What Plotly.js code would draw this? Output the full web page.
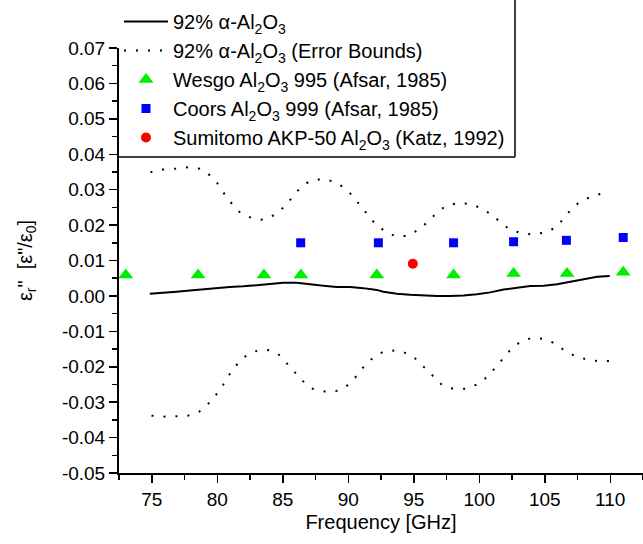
<!DOCTYPE html>
<html>
<head>
<meta charset="utf-8">
<script src="https://cdn.plot.ly/plotly-3.0.1.min.js"></script>
<style>html,body{margin:0;padding:0;background:#fff;}#chart{width:643px;height:544px;}</style>
</head>
<body>
<div id="chart"></div>
<script>
// Solid line: 92% alpha-Al2O3
const lineFreq = [74.85, 75.86, 76.89, 77.9, 78.92, 79.95, 80.96, 81.98, 83.0, 84.02, 85.04, 86.06, 87.08, 88.1, 89.12, 90.14, 91.15, 92.18, 92.68, 93.71, 94.72, 95.74, 96.77, 97.78, 98.8, 99.82, 100.84, 101.86, 102.88, 103.9, 104.92, 105.94, 106.96, 107.98, 109.0, 109.96];
const lineVal = [0.0006, 0.0008, 0.0012, 0.0015, 0.0019, 0.0022, 0.0025, 0.0027, 0.0031, 0.0034, 0.0037, 0.0037, 0.0034, 0.0029, 0.0025, 0.0025, 0.0022, 0.0017, 0.0012, 0.0006, 0.0003, 0.0001, 0.0, 0.0, 0.0001, 0.0005, 0.0010, 0.0018, 0.0023, 0.0028, 0.0029, 0.0033, 0.0040, 0.0048, 0.0054, 0.0056];

// Upper error bound
const upperFreq = [74.9, 75.86, 76.83, 77.78, 78.67, 79.33, 79.99, 80.56, 81.12, 81.78, 82.62, 83.51, 84.33, 85.04, 85.63, 86.26, 87.0, 87.92, 88.82, 89.55, 90.24, 90.85, 91.44, 92.0, 92.68, 93.56, 94.44, 95.24, 95.95, 96.64, 97.4, 98.34, 99.26, 100.08, 100.84, 101.48, 102.27, 103.19, 104.11, 104.97, 105.73, 106.4, 106.96, 107.67, 108.59, 109.46];
const upperVal = [0.0349, 0.0357, 0.0359, 0.0363, 0.0359, 0.0344, 0.0319, 0.0287, 0.0260, 0.0234, 0.0220, 0.0215, 0.0228, 0.0249, 0.0274, 0.0302, 0.0323, 0.0330, 0.0324, 0.0309, 0.0286, 0.0258, 0.0232, 0.0206, 0.0186, 0.0169, 0.0169, 0.0184, 0.0205, 0.0230, 0.0253, 0.0262, 0.0260, 0.0249, 0.0232, 0.0213, 0.0189, 0.0177, 0.0173, 0.0179, 0.0191, 0.0216, 0.0242, 0.0266, 0.0281, 0.0290];

// Lower error bound
const lowerFreq = [74.98, 75.86, 76.83, 77.78, 78.62, 79.28, 79.89, 80.45, 80.91, 81.42, 82.13, 82.95, 83.89, 84.66, 85.3, 85.88, 86.52, 87.29, 88.23, 89.12, 89.89, 90.52, 91.16, 91.8, 92.68, 93.58, 94.47, 95.16, 95.8, 96.43, 97.09, 97.99, 98.88, 99.77, 100.46, 101.12, 101.7, 102.32, 103.08, 103.95, 104.87, 105.63, 106.4, 107.21, 108.16, 109.07, 109.96];
const lowerVal = [-0.0338, -0.0341, -0.0340, -0.0338, -0.0327, -0.0306, -0.0280, -0.0251, -0.0223, -0.0197, -0.0171, -0.0156, -0.0153, -0.0164, -0.0190, -0.0215, -0.0240, -0.0262, -0.0270, -0.0268, -0.0254, -0.0231, -0.0201, -0.0178, -0.0157, -0.0154, -0.0162, -0.0178, -0.0201, -0.0225, -0.0249, -0.0262, -0.0262, -0.0251, -0.0233, -0.0207, -0.0182, -0.0155, -0.0131, -0.0119, -0.0121, -0.0132, -0.0151, -0.0168, -0.0179, -0.0184, -0.0184];

// Wesgo Al2O3 995 (Afsar, 1985)
const wesgoFreq = [73.01, 78.54, 83.56, 86.39, 92.18, 98.04, 102.62, 106.7, 110.99];
const wesgoVal = [0.0059, 0.0059, 0.0059, 0.0059, 0.0059, 0.0059, 0.0063, 0.0063, 0.0067];

// Coors Al2O3 999 (Afsar, 1985)
const coorsFreq = [86.37, 92.3, 98.04, 102.62, 106.65, 110.99];
const coorsVal = [0.0150, 0.0150, 0.0150, 0.0153, 0.0157, 0.0165];

// Sumitomo AKP-50 Al2O3 (Katz, 1992)
const sumiFreq = [94.93];
const sumiVal = [0.0091];

const names = [
  '92% \u03b1-Al<sub>2</sub>O<sub>3</sub>',
  '92% \u03b1-Al<sub>2</sub>O<sub>3</sub> (Error Bounds)',
  'Wesgo Al<sub>2</sub>O<sub>3</sub> 995 (Afsar, 1985)',
  'Coors Al<sub>2</sub>O<sub>3</sub> 999 (Afsar, 1985)',
  'Sumitomo AKP-50 Al<sub>2</sub>O<sub>3</sub> (Katz, 1992)'
];

const yTickVals = [0.07, 0.06, 0.05, 0.04, 0.03, 0.02, 0.01, 0.0, -0.01, -0.02, -0.03, -0.04, -0.05];
const yTickText = ['0.07', '0.06', '0.05', '0.04', '0.03', '0.02', '0.01', '0.00', '-0.01', '-0.02', '-0.03', '-0.04', '-0.05'];
const xTickVals = [75, 80, 85, 90, 95, 100, 105, 110];
const xTickText = ['75', '80', '85', '90', '95', '100', '105', '110'];

const dotDash = '2px,10px';

const traces = [
  {x: lineFreq, y: lineVal, mode: 'lines', name: names[0], line: {color: '#000', width: 2}, legendrank: 1},
  {x: upperFreq, y: upperVal, mode: 'lines', name: names[1], line: {color: '#000', width: 2, dash: dotDash}, legendgroup: 'err', legendrank: 2},
  {x: lowerFreq, y: lowerVal, mode: 'lines', name: names[1], line: {color: '#000', width: 2, dash: dotDash}, legendgroup: 'err', showlegend: false},
  {x: wesgoFreq, y: wesgoVal, mode: 'markers', name: names[2], marker: {symbol: 'triangle-up', color: '#00ee00', size: 13}, legendrank: 3},
  {x: coorsFreq, y: coorsVal, mode: 'markers', name: names[3], marker: {symbol: 'square', color: '#0000ff', size: 9}, legendrank: 4},
  {x: sumiFreq, y: sumiVal, mode: 'markers', name: names[4], marker: {symbol: 'circle', color: '#ff0000', size: 10}, legendrank: 5}
];

const font = {family: 'Arial, "Liberation Sans", sans-serif', color: '#000'};

const layout = {
  width: 643, height: 544,
  margin: {l: 119, r: 0, t: 48, b: 71, pad: 0},
  paper_bgcolor: '#fff', plot_bgcolor: '#fff',
  font: Object.assign({size: 19}, font),
  showlegend: true,
  legend: {
    x: 0, xanchor: 'left', y: 0.7435, yanchor: 'bottom',
    bgcolor: 'rgba(0,0,0,0)', borderwidth: 0,
    font: Object.assign({size: 20}, font),
    itemwidth: 44,
    tracegroupgap: 0
  },
  xaxis: {
    range: [72.5, 112.5], showgrid: false, zeroline: false,
    showline: true, linecolor: '#000', linewidth: 2, mirror: false,
    ticks: 'outside', ticklen: 8, tickwidth: 1.5, tickcolor: '#000',
    tickvals: xTickVals, ticktext: xTickText,
    minor: {dtick: 2.5, tick0: 72.5, ticks: 'outside', ticklen: 5, tickwidth: 1.5, tickcolor: '#000', showgrid: false},
    tickfont: Object.assign({size: 19}, font),
    title: {text: 'Frequency [GHz]', font: Object.assign({size: 20}, font), standoff: 6}
  },
  yaxis: {
    range: [-0.05, 0.07], showgrid: false, zeroline: false,
    showline: true, linecolor: '#000', linewidth: 2, mirror: false,
    ticks: 'outside', ticklen: 8, tickwidth: 1.5, tickcolor: '#000',
    tickvals: yTickVals, ticktext: yTickText,
    minor: {dtick: 0.005, tick0: 0, ticks: 'outside', ticklen: 5, tickwidth: 1.5, tickcolor: '#000', showgrid: false},
    tickfont: Object.assign({size: 19}, font),
    title: {text: '\u03b5<sub>r</sub>"  [\u03b5"/\u03b5<sub>0</sub>]', font: Object.assign({size: 20}, font), standoff: 24}
  },
  shapes: [
    {type: 'line', xref: 'paper', yref: 'paper', x0: 0, x1: 0.7557, y0: 0.7435, y1: 0.7435, line: {color: '#000', width: 1.5}},
    {type: 'line', xref: 'paper', yref: 'paper', x0: 0.7557, x1: 0.7557, y0: 0.7435, y1: 1.12, line: {color: '#000', width: 1.5}}
  ]
};

Plotly.newPlot('chart', traces, layout, {displayModeBar: false, staticPlot: true});
</script>
</body>
</html>
